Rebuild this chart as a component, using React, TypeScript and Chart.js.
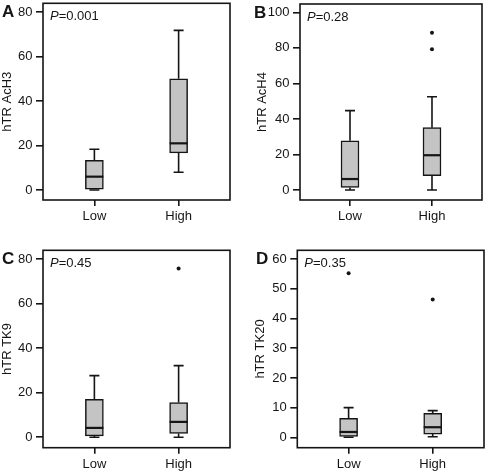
import React, { useEffect, useRef } from "react";
import { Chart, registerables } from "chart.js";

Chart.register(...registerables);

// ---------- data ----------
const categories = ["Low", "High"];
const panelLetters = ["A", "B", "C", "D"];
const yTitles = ["hTR AcH3", "hTR AcH4", "hTR TK9", "hTR TK20"];
const pValues = ["0.001", "0.28", "0.45", "0.35"];

// box statistics: [min, q1, median, q3, max]
const aLow = [0, 0, 6.0, 13.4, 18.3];
const aHigh = [8.0, 16.7, 21.0, 50.0, 71.8];
const bLow = [0, 1.5, 6.2, 27.7, 44.7];
const bHigh = [0, 8.1, 19.6, 35.1, 52.5];
const cLow = [0, 0.6, 4.2, 17.0, 27.7];
const cHigh = [0, 1.7, 6.9, 15.6, 32.2];
const dLow = [0, 0, 1.8, 6.4, 10.0];
const dHigh = [0.2, 1.1, 3.4, 8.1, 9.0];

// outliers per category
const aOutLow: number[] = [];
const aOutHigh: number[] = [];
const bOutLow: number[] = [];
const bOutHigh = [79.2, 88.5];
const cOutLow: number[] = [];
const cOutHigh = [75.8];
const dOutLow = [55.3];
const dOutHigh = [46.4];

// y tick labels
const aTicks = [0, 20, 40, 60, 80];
const bTicks = [0, 20, 40, 60, 80, 100];
const cTicks = [0, 20, 40, 60, 80];
const dTicks = [0, 10, 20, 30, 40, 50, 60];

// y ranges
const aRange = [-4.5, 84];
const bRange = [-5.6, 104.7];
const cRange = [-4.7, 84];
const dRange = [-3.5, 63];

// ---------- layout / style ----------
const PW = 244;
const PH = 237;
const FONT = '"Liberation Sans", Arial, Helvetica, sans-serif';
const INK = "#151515";
const BOX_FILL = "#c4c4c4";

const layouts = [
  { x: 0, y: 0, left: 43, right: 230, top: 3.3, bottom: 200, titlePad: 0, letterX: 2 },
  { x: 244, y: 0, left: 56, right: 238, top: 4, bottom: 200, titlePad: 10.5, letterX: 10 },
  { x: 0, y: 237, left: 43, right: 230, top: 13.3, bottom: 210.7, titlePad: 0, letterX: 2 },
  { x: 244, y: 237, left: 53.3, right: 240, top: 13.3, bottom: 210.7, titlePad: 9, letterX: 12 },
];

const panels = [
  { stats: [aLow, aHigh], outs: [aOutLow, aOutHigh], ticks: aTicks, range: aRange },
  { stats: [bLow, bHigh], outs: [bOutLow, bOutHigh], ticks: bTicks, range: bRange },
  { stats: [cLow, cHigh], outs: [cOutLow, cOutHigh], ticks: cTicks, range: cRange },
  { stats: [dLow, dHigh], outs: [dOutLow, dOutHigh], ticks: dTicks, range: dRange },
];

function makeConfig(i: number): any {
  const P = panels[i];
  const L = layouts[i];
  const font = { family: FONT, size: 13 };

  const boxData = categories.map((_, k) => ({ x: k + 1, y: [P.stats[k][1], P.stats[k][3]] }));
  const outData: { x: number; y: number }[] = [];
  categories.forEach((_, k) => P.outs[k].forEach((v) => outData.push({ x: k + 1, y: v })));

  const boxPlugin = {
    id: "boxExtras" + i,
    afterDatasetsDraw(chart: any) {
      const ctx = chart.ctx;
      const xs = chart.scales.x;
      const ys = chart.scales.y;
      ctx.save();
      ctx.strokeStyle = INK;
      ctx.lineCap = "butt";
      P.stats.forEach((s: number[], k: number) => {
        const px = xs.getPixelForValue(k + 1);
        const [mn, q1, md, q3, mx] = s.map((v) => ys.getPixelForValue(v));
        ctx.lineWidth = 1.6;
        ctx.beginPath();
        ctx.moveTo(px, q3);
        ctx.lineTo(px, mx);
        ctx.moveTo(px - 5, mx);
        ctx.lineTo(px + 5, mx);
        ctx.moveTo(px, q1);
        ctx.lineTo(px, mn);
        ctx.moveTo(px - 5, mn);
        ctx.lineTo(px + 5, mn);
        ctx.stroke();
        ctx.lineWidth = 2.2;
        ctx.beginPath();
        ctx.moveTo(px - 9, md);
        ctx.lineTo(px + 9, md);
        ctx.stroke();
      });
      const a = chart.chartArea;
      ctx.lineWidth = 1.6;
      ctx.strokeRect(a.left, a.top, a.right - a.left, a.bottom - a.top);

      // P value text
      ctx.fillStyle = INK;
      ctx.textBaseline = "middle";
      ctx.textAlign = "left";
      const ty = a.top + 13;
      const tx = a.left + 7;
      ctx.font = `italic 13px ${FONT}`;
      ctx.fillText("P", tx, ty);
      const w = ctx.measureText("P").width;
      ctx.font = `13px ${FONT}`;
      ctx.fillText("=" + pValues[i], tx + w, ty);

      // panel letter
      ctx.font = `bold 17px ${FONT}`;
      ctx.fillText(panelLetters[i], L.letterX, ys.getPixelForValue(P.ticks[P.ticks.length - 1]) + 0.5);
      ctx.restore();
    },
  };

  return {
    type: "bar",
    data: {
      datasets: [
        {
          type: "bar",
          data: boxData,
          backgroundColor: BOX_FILL,
          borderColor: INK,
          borderWidth: 1.5,
          borderSkipped: false,
          barThickness: 18,
          order: 2,
        },
        {
          type: "scatter",
          data: outData,
          pointRadius: 2,
          pointBackgroundColor: INK,
          pointBorderWidth: 0,
          order: 1,
        },
      ],
    },
    options: {
      responsive: false,
      animation: false,
      events: [],
      layout: { padding: { left: 0, top: L.top, right: PW - L.right, bottom: 0 } },
      plugins: { legend: { display: false }, tooltip: { enabled: false } },
      scales: {
        x: {
          type: "linear",
          offset: false,
          min: 0.39,
          max: 2.61,
          afterBuildTicks: (s: any) => {
            s.ticks = categories.map((_, k) => ({ value: k + 1 }));
          },
          ticks: {
            callback: (v: any) => categories[Math.round(v) - 1] ?? "",
            font,
            color: INK,
            padding: 3,
            autoSkip: false,
            maxRotation: 0,
          },
          grid: {
            display: true,
            offset: false,
            drawOnChartArea: false,
            drawTicks: true,
            tickLength: 6,
            color: INK,
            lineWidth: 1.6,
          },
          border: { display: false },
          afterFit: (s: any) => {
            s.height = PH - L.bottom;
            s.paddingLeft = 0;
            s.paddingRight = 0;
          },
        },
        y: {
          type: "linear",
          min: P.range[0],
          max: P.range[1],
          afterBuildTicks: (s: any) => {
            s.ticks = P.ticks.map((v: number) => ({ value: v }));
          },
          ticks: { font, color: INK, padding: 3.5 },
          grid: { display: true, drawOnChartArea: false, drawTicks: true, tickLength: 7, color: INK, lineWidth: 1.6 },
          border: { display: false },
          title: { display: true, text: yTitles[i], font, color: INK, padding: { top: L.titlePad, bottom: 0 } },
          afterFit: (s: any) => {
            s.width = L.left;
            s.paddingTop = 0;
            s.paddingBottom = 0;
          },
        },
      },
    },
    plugins: [boxPlugin],
  };
}

function Panel({ index }: { index: number }) {
  const ref = useRef<HTMLCanvasElement>(null);
  useEffect(() => {
    const chart = new Chart(ref.current as HTMLCanvasElement, makeConfig(index));
    return () => chart.destroy();
  }, [index]);
  const L = layouts[index];
  return (
    <canvas
      ref={ref}
      width={PW}
      height={PH}
      style={{ position: "absolute", left: L.x, top: L.y, width: PW, height: PH }}
    />
  );
}

export default function App() {
  return (
    <div style={{ position: "absolute", left: 0, top: 0, width: 488, height: 474, background: "#fff" }}>
      {panels.map((_, i) => (
        <Panel key={i} index={i} />
      ))}
    </div>
  );
}
